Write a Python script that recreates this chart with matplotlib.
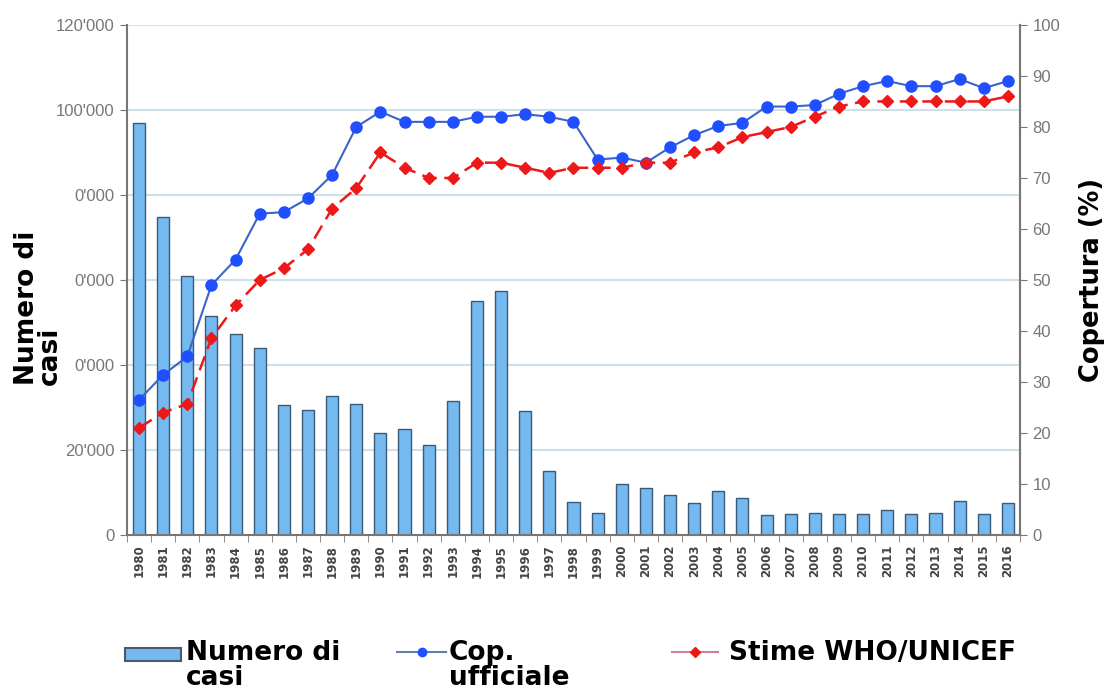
import matplotlib
matplotlib.use("Agg")
import matplotlib.pyplot as plt
from matplotlib.ticker import FixedLocator, FixedFormatter
from matplotlib.patches import Patch, Rectangle
from matplotlib.lines import Line2D
from matplotlib.legend_handler import HandlerPatch

# data
anni = list(range(1980, 2017))
casi = [97000, 74800, 60900, 51500, 47300, 44000, 30600, 29400, 32700, 30800,
        24000, 24900, 21200, 31500, 55000, 57400, 29200, 15100, 7800, 5200,
        12000, 11000, 9400, 7500, 10300, 8600, 4700, 4900, 5100, 4900,
        4900, 5900, 4900, 5100, 8000, 4900, 7500]
cop_ufficiale = [26.5, 31.4, 35, 49, 54, 63, 63.3, 66, 70.6, 80,
                 83, 81, 81, 81, 82, 82, 82.5, 82, 81, 73.6,
                 74, 73, 76, 78.4, 80.2, 80.8, 84, 84, 84.3, 86.5,
                 88, 89, 88, 88, 89.4, 87.6, 89]
stime_who = [21, 24, 25.7, 38.6, 45, 50, 52.3, 56, 64, 68,
             75, 72, 70, 70, 73, 73, 72, 71, 72, 72,
             72, 73, 73, 75, 76, 78, 79, 80, 82, 84,
             85, 85, 85, 85, 85, 85, 86]
y_left_ticks = [0, 20000, 40000, 60000, 80000, 100000, 120000]
y_left_labels = ["0", "20'000", "0'000", "0'000", "0'000", "100'000", "120'000"]
y_right_ticks = list(range(0, 101, 10))
legend_labels = ["Numero di\ncasi", "Cop.\nufficiale", "Stime WHO/UNICEF"]

NARROW = ["Liberation Sans Narrow", "Liberation Sans", "DejaVu Sans"]
BAR_FC, BAR_EC = "#74b9f0", "#3a5a78"
BLUE_LINE, BLUE_MK = "#3c64c8", "#1f4fff"
RED = "#ee1818"

fig = plt.figure(figsize=(11.07, 6.93), dpi=100)
ax = fig.add_axes([0.1147, 0.228, 0.8067, 0.736])
x = list(range(len(anni)))

ax.bar(x, casi, width=0.5, color=BAR_FC, edgecolor=BAR_EC, linewidth=1.0, zorder=2)
ax.set_xlim(-0.45, len(anni) - 0.55)
ax.set_ylim(0, 120000)
ax.yaxis.set_major_locator(FixedLocator(y_left_ticks))
ax.yaxis.set_major_formatter(FixedFormatter(y_left_labels))
ax.grid(axis="y", color="#cfe0e8", linewidth=1.5, zorder=0)
ax.set_axisbelow(True)
for lab in ax.get_yticklabels():
    lab.set_fontfamily(NARROW)
    lab.set_fontsize(12)
    lab.set_color("#777777")
ax.tick_params(axis="y", length=5, color="#777777", pad=4)

ax.set_xticks(x)
ax.set_xticklabels([str(a) for a in anni], rotation=90, fontsize=8.5,
                   fontweight="bold", color="#444444", family="DejaVu Sans")
ax.set_xticks([i - 0.5 for i in x] + [len(anni) - 0.5], minor=True)
ax.tick_params(axis="x", which="major", length=0, pad=7)
ax.tick_params(axis="x", which="minor", length=5, color="#777777")

ax.spines["top"].set_visible(False)
for s in ["left", "bottom", "right"]:
    ax.spines[s].set_color("#777777")
    ax.spines[s].set_linewidth(1.5)

ax.set_ylabel("Numero di\ncasi", fontsize=19, fontweight="bold", family="DejaVu Sans",
              multialignment="left", linespacing=0.85, ha="left")
ax.yaxis.set_label_coords(-0.072, 0.294)

ax2 = ax.twinx()
ax2.set_ylim(0, 100)
ax2.set_yticks(y_right_ticks)
for lab in ax2.get_yticklabels():
    lab.set_fontfamily(NARROW)
    lab.set_fontsize(12)
    lab.set_color("#777777")
ax2.tick_params(axis="y", length=5, color="#777777", pad=4)
for s in ["top", "left", "bottom"]:
    ax2.spines[s].set_visible(False)
ax2.spines["right"].set_color("#777777")
ax2.spines["right"].set_linewidth(1.5)

ax2.plot(x, cop_ufficiale, color=BLUE_LINE, linewidth=1.5, marker="o",
         markersize=8, markerfacecolor=BLUE_MK, markeredgecolor=BLUE_MK, zorder=3)
ax2.plot(x, stime_who, color=RED, linewidth=1.8, linestyle=(0, (6, 3)),
         marker="D", markersize=6.5, markerfacecolor=RED,
         markeredgecolor=RED, zorder=4)
ax2.set_ylabel("Copertura (%)", fontsize=18.5, fontweight="bold", family="DejaVu Sans")
ax2.yaxis.set_label_coords(1.066, 0.5)


def small_box(legend, orig_handle, xdescent, ydescent, width, height, fontsize):
    h = 0.5 * fontsize
    return Rectangle((-xdescent, -ydescent + (height - h) / 2), width, h)


# legend: three separate entries, handle aligned with the first text line
handles = [
    Patch(facecolor=BAR_FC, edgecolor="#4a5a6a", linewidth=1.5),
    Line2D([], [], color="#6080b0", linewidth=1.5, marker="o", markersize=6,
           markerfacecolor=BLUE_MK, markeredgecolor=BLUE_MK),
    Line2D([], [], color="#d08090", linewidth=1.5, marker="D",
           markersize=5.5, markerfacecolor=RED, markeredgecolor=RED),
]
anchors_x = [0.113, 0.359, 0.607]
hlens = [2.1, 1.85, 1.75]
hpads = [0.2, 0.1, 0.4]
for h, lab, ax_x, hl, hp in zip(handles, legend_labels, anchors_x, hlens, hpads):
    leg = fig.legend([h], [lab], loc="upper left", bbox_to_anchor=(ax_x, 0.076),
                     frameon=False, handlelength=hl, handleheight=1.3,
                     handletextpad=hp, borderpad=0, borderaxespad=0,
                     handler_map={Patch: HandlerPatch(patch_func=small_box)},
                     prop={"family": "DejaVu Sans", "weight": "bold", "size": 19})
    for t in leg.get_texts():
        t.set_linespacing(0.95)
    for col in leg._legend_handle_box.get_children():
        for row in col.get_children():
            row.align = "top"

fig.savefig("out.png", dpi=100)
